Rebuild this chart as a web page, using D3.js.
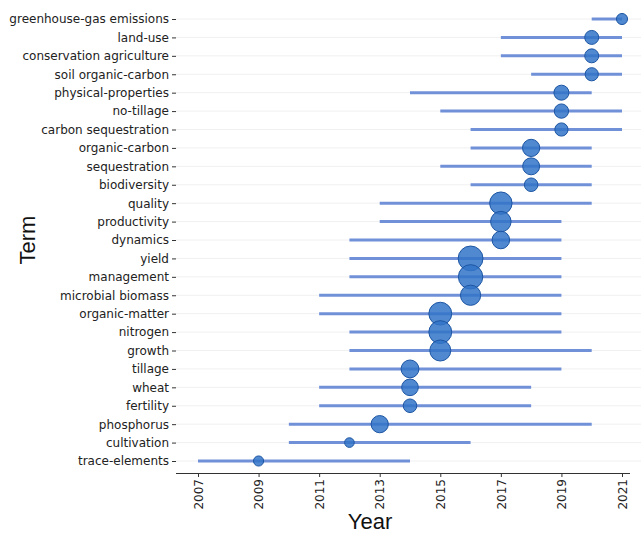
<!DOCTYPE html>
<html>
<head>
<meta charset="utf-8">
<script src="https://cdn.jsdelivr.net/npm/d3@7"></script>
<style>
  html, body { margin: 0; padding: 0; background: #fff; }
  svg { display: block; }
</style>
</head>
<body>
<svg id="chart" width="641" height="533"></svg>
<script>
const terms = ["greenhouse-gas emissions","land-use","conservation agriculture","soil organic-carbon","physical-properties","no-tillage","carbon sequestration","organic-carbon","sequestration","biodiversity","quality","productivity","dynamics","yield","management","microbial biomass","organic-matter","nitrogen","growth","tillage","wheat","fertility","phosphorus","cultivation","trace-elements"];
const yearStart = [2020,2017,2017,2018,2014,2015,2016,2016,2015,2016,2013,2013,2012,2012,2012,2011,2011,2012,2012,2012,2011,2011,2010,2010,2007];
const yearMedian = [2021,2020,2020,2020,2019,2019,2019,2018,2018,2018,2017,2017,2017,2016,2016,2016,2015,2015,2015,2014,2014,2014,2013,2012,2009];
const yearEnd = [2021,2021,2021,2021,2020,2021,2021,2020,2020,2020,2020,2019,2019,2019,2019,2019,2019,2019,2020,2019,2018,2018,2020,2016,2014];
const freq = [12,19,19,17,22,20,17,29,28,18,49,41,30,60,58,40,51,51,43,31,27,18,29,9,10];
const yearTicks = [2007,2009,2011,2013,2015,2017,2019,2021];

const svg = d3.select("#chart");
const x = d3.scaleLinear().domain([2007, 2021]).range([198, 622]);
const y = d3.scalePoint().domain(terms).range([19, 461]);
const r = d3.scaleSqrt().domain([0, 60]).range([0, 12.4]);

// gridlines
svg.append("g").selectAll("line").data(terms).join("line")
  .attr("x1", 176).attr("x2", 641)
  .attr("y1", d => y(d)).attr("y2", d => y(d))
  .attr("stroke", "#f0f0f0").attr("stroke-width", 1);

// y axis
const yAxis = svg.append("g").attr("transform", "translate(176,0)")
  .call(d3.axisLeft(y).tickSize(4).tickPadding(3));
yAxis.select(".domain").remove();
yAxis.selectAll(".tick line").attr("stroke", "#333");
yAxis.selectAll(".tick text")
  .attr("font-family", "DejaVu Sans, Verdana, sans-serif")
  .attr("font-size", "12px").attr("fill", "#222");

// x axis
const xAxis = svg.append("g").attr("transform", "translate(0,473)")
  .call(d3.axisBottom(x).tickValues(yearTicks).tickFormat(d3.format("d")).tickSize(4).tickSizeOuter(0));
xAxis.select(".domain").attr("stroke", "#333").attr("d", "M176,0.5H630");
xAxis.selectAll(".tick line").attr("stroke", "#333");
xAxis.selectAll(".tick text")
  .attr("font-family", "DejaVu Sans, Verdana, sans-serif")
  .attr("font-size", "12px").attr("fill", "#222")
  .attr("transform", "rotate(-90)")
  .attr("text-anchor", "end")
  .attr("x", -6).attr("y", 0).attr("dy", "0.35em");

// range lines
const idx = d3.range(terms.length);
svg.append("g").selectAll("line").data(idx).join("line")
  .attr("x1", i => x(yearStart[i])).attr("x2", i => x(yearEnd[i]))
  .attr("y1", i => y(terms[i])).attr("y2", i => y(terms[i]))
  .attr("stroke", "#7090d8").attr("stroke-width", 3);

// points
svg.append("g").selectAll("circle").data(idx).join("circle")
  .attr("cx", i => x(yearMedian[i])).attr("cy", i => y(terms[i]))
  .attr("r", i => r(freq[i]))
  .attr("fill", "#3374c8").attr("fill-opacity", 0.85)
  .attr("stroke", "#1c55a3").attr("stroke-width", 1);

// titles
svg.append("text").attr("transform", "translate(35,240) rotate(-90)")
  .attr("text-anchor", "middle")
  .attr("font-family", "Liberation Sans, Arial, sans-serif")
  .attr("font-size", "22px").attr("fill", "#111").text("Term");
svg.append("text").attr("x", 370).attr("y", 529)
  .attr("text-anchor", "middle")
  .attr("font-family", "Liberation Sans, Arial, sans-serif")
  .attr("font-size", "22px").attr("fill", "#111").text("Year");
</script>
</body>
</html>
